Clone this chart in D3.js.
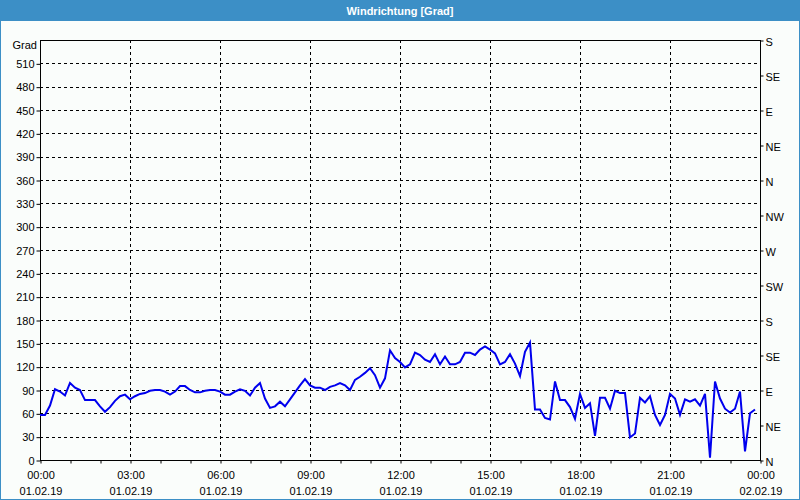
<!DOCTYPE html>
<html><head><meta charset="utf-8">
<script src="https://cdn.jsdelivr.net/npm/d3@7"></script>
<style>
html,body{margin:0;padding:0;background:#fff;}
svg{display:block;font-family:"Liberation Sans",Arial,sans-serif;}
</style></head>
<body><svg id="c" width="800" height="500"></svg>
<script>
const title = "Windrichtung [Grad]";
const unitLabel = "Grad";
const leftTicks = [0,30,60,90,120,150,180,210,240,270,300,330,360,390,420,450,480,510];
const rightTickValues = [0,45,90,135,180,225,270,315,360,405,450,495,540];
const rightTickLabels = ["N","NE","E","SE","S","SW","W","NW","N","NE","E","SE","S"];
const xTickTimes = ["00:00","03:00","06:00","09:00","12:00","15:00","18:00","21:00","00:00"];
const xTickDates = ["01.02.19","01.02.19","01.02.19","01.02.19","01.02.19","01.02.19","01.02.19","01.02.19","02.02.19"];
const sampleStart = "2019-02-01T00:00:00";
const sampleStepMinutes = 10;
const direction = [
58,58,70,91,88,83,99,93,90,77,77,77,69,62,68,76,82,84,78,82,
85,86,89,90,90,88,84,88,95,95,90,87,87,89,90,90,88,84,84,88,
91,89,83,93,99,79,67,69,75,69,78,87,96,104,96,93,93,90,94,96,
99,96,90,103,107,112,118,109,93,105,141,131,126,119,123,138,135,129,126,136,
123,133,123,123,126,138,138,135,142,146,142,137,123,126,136,124,108,139,151,65,
65,54,52,101,77,77,68,53,85,67,73,31,80,80,66,89,86,86,29,34,
80,74,82,58,45,58,85,79,58,78,75,78,70,85,3,101,79,66,61,66,
88,11,60,65
];

const svg = d3.select("#c");
const W = 800, H = 500;
const m = {l:40, r:760, t:40, b:460};

// window frame
svg.append("rect").attr("x",0).attr("y",0).attr("width",W).attr("height",H).attr("fill","#3c8fc6");
svg.append("rect").attr("x",1).attr("y",21).attr("width",W-2).attr("height",H-22).attr("fill","#fafdfb");
svg.append("text").attr("x",W/2).attr("y",14.5).attr("text-anchor","middle")
  .attr("fill","#fff").attr("font-weight","bold").attr("font-size","11px").text(title);

const t0 = new Date(sampleStart);
const x = d3.scaleTime().domain([t0, d3.timeHour.offset(t0,24)]).range([m.l, m.r]);
const y = d3.scaleLinear().domain([0,540]).range([m.b, m.t]);

const data = direction.map((v,i)=>({t:d3.timeMinute.offset(t0,i*sampleStepMinutes), v}));

// grid
const g = svg.append("g");
g.selectAll("line.h").data(leftTicks.filter(d=>d>0)).join("line")
  .attr("x1",m.l).attr("x2",m.r).attr("y1",d=>Math.round(y(d))+0.5).attr("y2",d=>Math.round(y(d))+0.5)
  .attr("stroke","#000").attr("stroke-dasharray","3,3");
const majorTimes = d3.range(1,8).map(i=>d3.timeHour.offset(t0,i*3));
g.selectAll("line.v").data(majorTimes).join("line")
  .attr("x1",d=>Math.round(x(d))+0.5).attr("x2",d=>Math.round(x(d))+0.5).attr("y1",m.t).attr("y2",m.b)
  .attr("stroke","#000").attr("stroke-dasharray","3,3");

// frame axes lines
svg.append("rect").attr("x",m.l+0.5).attr("y",m.t+0.5).attr("width",m.r-m.l).attr("height",m.b-m.t)
  .attr("fill","none").attr("stroke","#000");

// left axis
const la = d3.axisLeft(y).tickValues(leftTicks).tickSize(4).tickPadding(2);
const lag = svg.append("g").attr("transform",`translate(${m.l+0.5},0.5)`).call(la);
lag.select(".domain").remove();
lag.selectAll("text").attr("font-size","11px").attr("fill","#000").attr("font-family","Liberation Sans, Arial, sans-serif");
svg.append("text").attr("x",37).attr("y",49).attr("text-anchor","end").attr("font-size","11px").attr("fill","#000").text(unitLabel);

// right axis
const ra = d3.axisRight(y).tickValues(rightTickValues).tickFormat((d,i)=>rightTickLabels[i]).tickSize(3).tickPadding(2);
const rag = svg.append("g").attr("transform",`translate(${m.r+0.5},0.5)`).call(ra);
rag.select(".domain").remove();
rag.selectAll("text").attr("font-size","11px").attr("fill","#000").attr("font-family","Liberation Sans, Arial, sans-serif").attr("dy","0.45em");

// bottom axis
const minor = d3.range(0,25).map(i=>d3.timeHour.offset(t0,i));
const ba = d3.axisBottom(x).tickValues(minor).tickSize(3).tickFormat("");
const bag = svg.append("g").attr("transform",`translate(0.5,${m.b+0.5})`).call(ba);
bag.select(".domain").remove();
const majors = d3.range(0,9).map(i=>d3.timeHour.offset(t0,i*3));
svg.selectAll("text.xt").data(majors).join("text").attr("class","xt")
  .attr("x",d=>x(d)+1).attr("y",479).attr("text-anchor","middle").attr("font-size","11px").attr("fill","#000")
  .text((d,i)=>xTickTimes[i]);
svg.selectAll("text.xd").data(majors).join("text").attr("class","xd")
  .attr("x",d=>x(d)+1).attr("y",495).attr("text-anchor","middle").attr("font-size","11px").attr("fill","#000")
  .text((d,i)=>xTickDates[i]);

// data line
svg.append("path").datum(data)
  .attr("d", d3.line().x(d=>x(d.t)).y(d=>y(d.v)))
  .attr("fill","none").attr("stroke","#0000ee").attr("stroke-width",2).attr("stroke-linejoin","miter");
</script></body></html>
